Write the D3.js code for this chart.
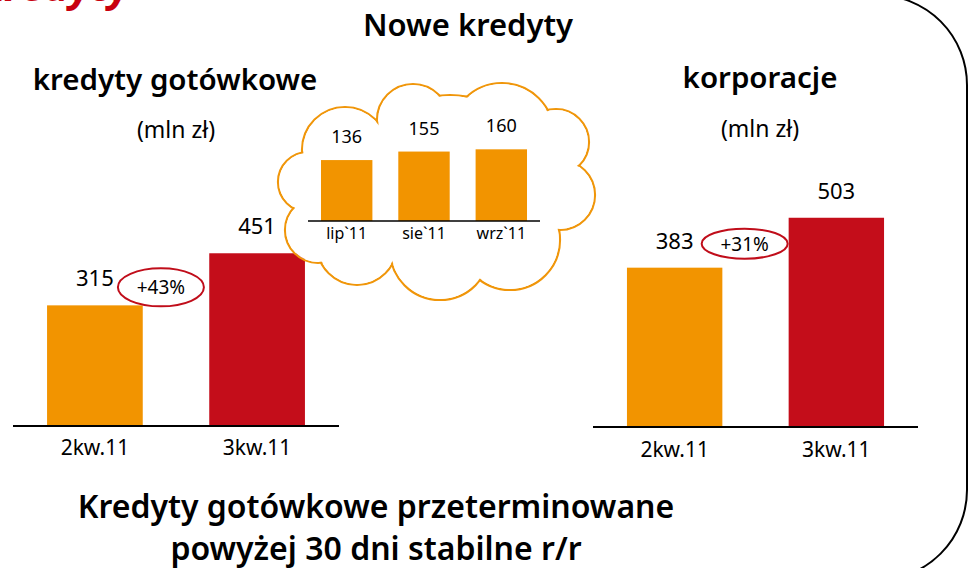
<!DOCTYPE html>
<html>
<head>
<meta charset="utf-8">
<script src="https://cdn.jsdelivr.net/npm/d3@7"></script>
<style>
  html, body { margin: 0; padding: 0; background: #fff; }
  svg { display: block; }
  text { font-family: "Noto Sans", "Open Sans", sans-serif; fill: #000; }
</style>
</head>
<body>
<svg id="chart" width="973" height="568"></svg>
<script>
// ---- data ----
const quarterCats = ["2kw.11", "3kw.11"];
const cashLoanValues = [315, 451];
const corporateValues = [383, 503];
const monthCats = ["lip`11", "sie`11", "wrz`11"];
const monthValues = [136, 155, 160];
const cashGrowth = "+43%";
const corporateGrowth = "+31%";
const titleText = "Nowe kredyty";
const leftTitle = "kredyty gotówkowe";
const rightTitle = "korporacje";
const unitText = "(mln zł)";
const footerLines = ["Kredyty gotówkowe przeterminowane", "powyżej 30 dni stabilne r/r"];
const cornerText = "Kredyty";

// ---- styles ----
const ORANGE = "#f29400";
const RED = "#c40d1a";
const barColors = [ORANGE, RED];

const svg = d3.select("#chart");

// page frame (rounded right edge)
const frame = d3.path();
frame.moveTo(860, -5);
frame.lineTo(877, -5);
frame.arc(877, 85, 90, -Math.PI / 2, 0);
frame.lineTo(967, 490);
frame.arc(877, 490, 90, 0, Math.PI / 2);
svg.append("path").attr("d", frame.toString())
  .attr("fill", "none").attr("stroke", "#000").attr("stroke-width", 2);

// clipped red corner title (cut by the top edge, as in the source slide)
svg.append("text").text(cornerText)
  .attr("x", 130).attr("y", 1).attr("text-anchor", "end")
  .style("font-size", "42px").style("font-style", "italic").style("font-weight", 700)
  .style("fill", "#c8000f");

// headings
svg.append("text").text(titleText).attr("x", 468).attr("y", 36)
  .attr("text-anchor", "middle").style("font-size", "31px").style("font-weight", 600);
svg.append("text").text(leftTitle).attr("x", 175).attr("y", 90)
  .attr("text-anchor", "middle").style("font-size", "29.5px").style("font-weight", 600);
svg.append("text").text(rightTitle).attr("x", 760).attr("y", 88)
  .attr("text-anchor", "middle").style("font-size", "29.5px").style("font-weight", 600);
svg.append("text").text(unitText).attr("x", 176).attr("y", 138)
  .attr("text-anchor", "middle").style("font-size", "23px");
svg.append("text").text(unitText).attr("x", 760).attr("y", 137)
  .attr("text-anchor", "middle").style("font-size", "23px");

footerLines.forEach((t, i) => {
  svg.append("text").text(t).attr("x", 376).attr("y", 518 + i * 42)
    .attr("text-anchor", "middle").style("font-size", "32px").style("font-weight", 600);
});

// ---- generic bar chart ----
function barChart(opt) {
  const g = svg.append("g");
  const x = d3.scaleBand().domain(opt.cats).range(opt.xRange)
    .paddingInner(opt.padIn).paddingOuter(opt.padOut);
  const y = d3.scaleLinear().domain(opt.yDomain).range(opt.yRange);
  const bw = x.bandwidth();

  g.selectAll("rect.bar").data(opt.values).join("rect")
    .attr("class", "bar")
    .attr("x", (d, i) => x(opt.cats[i]))
    .attr("y", d => y(d))
    .attr("width", bw)
    .attr("height", d => y(0) - y(d))
    .attr("fill", (d, i) => opt.colors[i]);

  // baseline axis
  const axis = d3.axisBottom(x).tickSize(0).tickPadding(opt.tickPad);
  const ag = g.append("g").attr("transform", `translate(0,${y(0)})`).call(axis);
  ag.select(".domain").attr("stroke", "#000").attr("stroke-width", opt.axisW)
    .attr("d", `M${opt.xRange[0]},0H${opt.xRange[1]}`);
  ag.selectAll(".tick text").style("font-size", opt.catFont)
    .style("font-family", '"Noto Sans", sans-serif').attr("fill", "#000")
    .attr("dy", "0.71em");

  g.selectAll("text.val").data(opt.values).join("text")
    .attr("class", "val")
    .attr("x", (d, i) => x(opt.cats[i]) + bw / 2)
    .attr("y", d => y(d) - opt.valGap)
    .attr("text-anchor", "middle")
    .style("font-size", opt.valFont)
    .text(d => d);

  if (opt.growth) {
    const cx = x(opt.cats[0]) + bw / 2 + opt.growthDx;
    const cy = y(opt.values[0]) - opt.valGap - opt.growthDy;
    g.append("ellipse").attr("cx", cx).attr("cy", cy)
      .attr("rx", 43).attr("ry", opt.growthRy)
      .attr("fill", "none").attr("stroke", "#c00d1a").attr("stroke-width", 2);
    g.append("text").text(opt.growth).attr("x", cx).attr("y", cy + 7)
      .attr("text-anchor", "middle").style("font-size", "19px");
  }
  return g;
}

// left: cash loans
barChart({
  cats: quarterCats, values: cashLoanValues, colors: barColors,
  xRange: [13, 339], padIn: 0.41, padOut: 0.21,
  yDomain: [0, 500], yRange: [426, 426 - 0.383 * 500],
  axisW: 2, tickPad: 14, catFont: "21px", valFont: "22px", valGap: 19,
  growth: cashGrowth, growthDx: 66, growthDy: -1, growthRy: 19
});

// right: corporate
barChart({
  cats: quarterCats, values: corporateValues, colors: barColors,
  xRange: [593, 918], padIn: 0.41, padOut: 0.21,
  yDomain: [0, 500], yRange: [427, 427 - 0.416 * 500],
  axisW: 2, tickPad: 15, catFont: "21px", valFont: "22px", valGap: 19,
  growth: corporateGrowth, growthDx: 70, growthDy: 5, growthRy: 15
});

// cloud outline (union of circles)
const cloudCircles = [
  [308, 182, 30], [318, 230, 33], [357, 245, 40], [440, 250, 50],
  [510, 240, 50], [560, 195, 35], [556, 142, 33], [502, 135, 52],
  [413, 120, 36], [345, 150, 43], [450, 185, 90]
];
const cloud = svg.append("g");
cloud.selectAll("circle.o").data(cloudCircles).join("circle")
  .attr("class", "o").attr("cx", d => d[0]).attr("cy", d => d[1]).attr("r", d => d[2])
  .attr("fill", "none").attr("stroke", "#f0960a").attr("stroke-width", 2.2);
cloud.selectAll("circle.f").data(cloudCircles).join("circle")
  .attr("class", "f").attr("cx", d => d[0]).attr("cy", d => d[1]).attr("r", d => d[2] - 1.1)
  .attr("fill", "#fff");

// monthly chart inside the cloud
barChart({
  cats: monthCats, values: monthValues, colors: monthCats.map(() => ORANGE),
  xRange: [308, 540], padIn: 0.335, padOut: 0.168,
  yDomain: [0, 200], yRange: [221, 221 - 0.448 * 200],
  axisW: 1.6, tickPad: 7, catFont: "16px", valFont: "18px", valGap: 17
});
</script>
</body>
</html>
